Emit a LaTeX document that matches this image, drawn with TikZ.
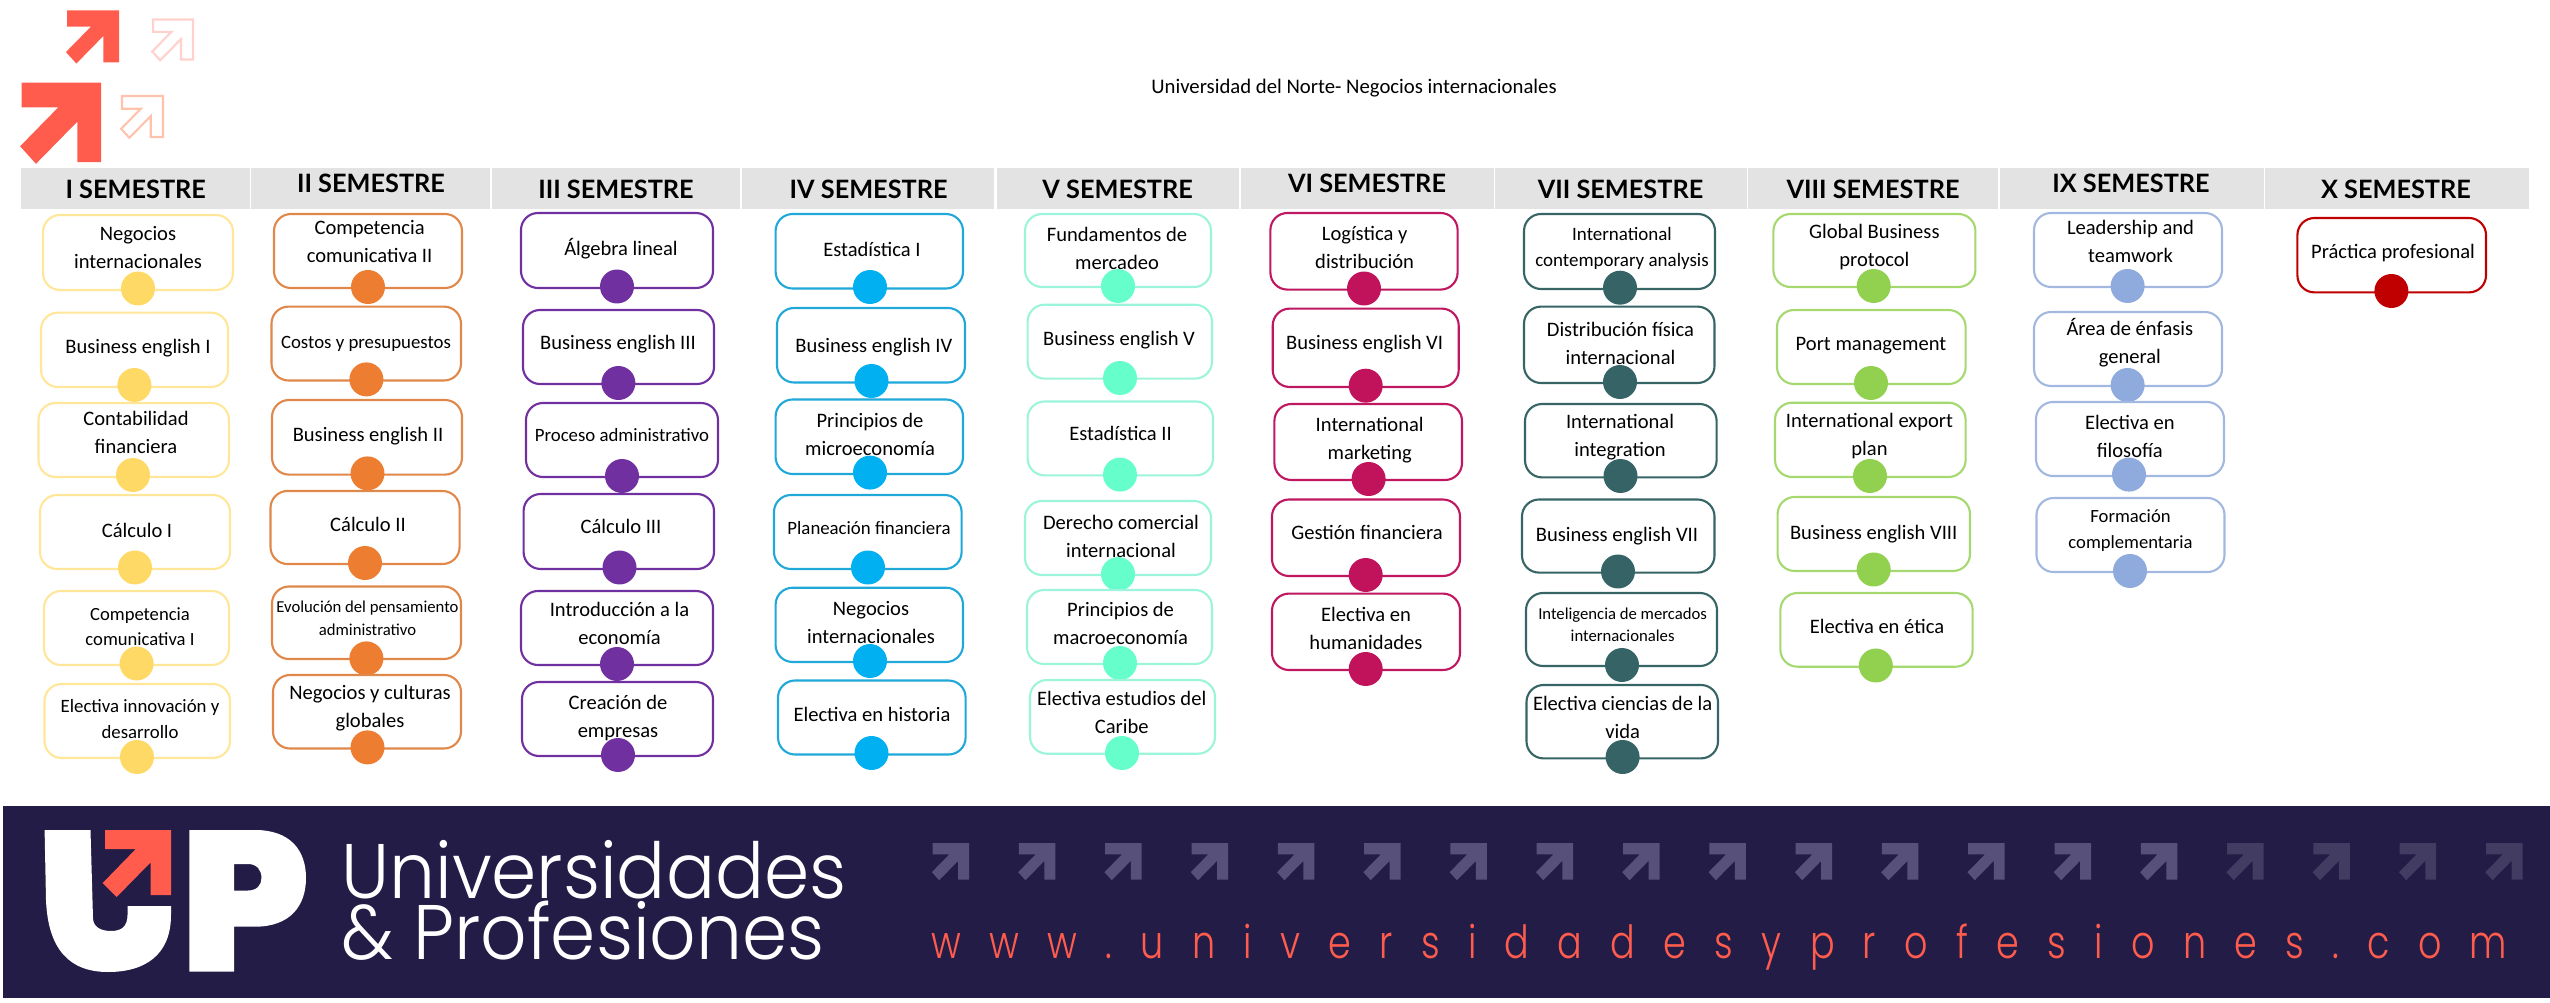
\documentclass[tikz,border=0pt]{standalone}
\usepackage{fontspec}
\setmainfont{Carlito}
\newfontfamily\semfont{Lato}
\newfontfamily\upfont[FakeStretch=0.94]{Poppins Light}
\newfontfamily\urlfont[LetterSpace=62,FakeStretch=0.8]{Poppins Light}
\definecolor{bordeA}{HTML}{FFE699}
\definecolor{puntoA}{HTML}{FFD966}
\definecolor{bordeB}{HTML}{E0874A}
\definecolor{puntoB}{HTML}{ED7D31}
\definecolor{bordeC}{HTML}{7030A0}
\definecolor{puntoC}{HTML}{7030A0}
\definecolor{bordeD}{HTML}{1FA8D8}
\definecolor{puntoD}{HTML}{00B0F0}
\definecolor{bordeE}{HTML}{9CF5DA}
\definecolor{puntoE}{HTML}{66FFCC}
\definecolor{bordeF}{HTML}{BF1760}
\definecolor{puntoF}{HTML}{C1125C}
\definecolor{bordeG}{HTML}{376565}
\definecolor{puntoG}{HTML}{366466}
\definecolor{bordeH}{HTML}{A5D86F}
\definecolor{puntoH}{HTML}{92D050}
\definecolor{bordeI}{HTML}{A3B8E0}
\definecolor{puntoI}{HTML}{8FAADC}
\definecolor{bordeJ}{HTML}{C00000}
\definecolor{puntoJ}{HTML}{C00000}
\definecolor{grisfranja}{HTML}{E3E3E3}
\definecolor{fondoup}{HTML}{221C46}
\definecolor{naranjaup}{HTML}{FF5C4D}
\definecolor{flechaclara}{HTML}{56507A}
\definecolor{flechaoscura}{HTML}{423C63}
\tikzset{
	caja/.style={rectangle, rounded corners=0.34cm, line width=1.2pt, fill=white, inner sep=0pt},
	punto/.style={circle, minimum size=0.68cm, inner sep=0pt},
	materia/.style={align=center, inner sep=0pt, yshift=-0.03cm},
	franja/.style={rectangle, fill=grisfranja, minimum height=0.82cm, inner sep=0pt},
	semestre/.style={font=\semfont\bfseries\fontsize{14.4}{17}\selectfont, inner sep=0pt}
}
\newcommand{\columna}[4]{
	\foreach \n/\xa/\ya/\xb/\yb/\dx/\dy/\tx/\ty/\fs/\txt in {#4} {
		\node[caja, draw=#2, minimum width={(\xb-\xa)*0.02cm}, minimum height={(\yb-\ya)*0.02cm}] (#1-\n) at ({(\xa+\xb)/2},{(\ya+\yb)/2}) {};
		\node[materia, font=\fontsize{\fs}{\dimexpr\fs pt*15/11\relax}\selectfont] (t#1-\n) at (\tx,\ty) {\strut\txt\strut};
		\node[punto, fill=#3] (p#1-\n) at (\dx,\dy) {};
	}
}
\newcommand{\flecha}[4]{
	\path[#4, shift={(#1,#2)}, scale=#3] (0,0) -- (1,0) -- (1,1) -- (0.70,1) -- (0.70,0.49) -- (0.18,1.02) -- (-0.02,0.80) -- (0.46,0.31) -- (0,0.31) -- cycle;
}

\begin{document}
\begin{tikzpicture}[x=0.02cm, y=-0.02cm]
	\useasboundingbox (0,0) rectangle (2550,1003);
	\flecha{67}{10.5}{52}{fill=naranjaup}
	\flecha{21.7}{82.7}{79.5}{fill=naranjaup}
	\flecha{153}{19.5}{40}{draw=naranjaup!28, line width=1.2pt}
	\flecha{122}{96}{41}{draw=orange!35!naranjaup!40, line width=1.2pt}
	\node[font=\fontsize{11.8}{14}\selectfont] (titulo) at (1354,88.5) {Universidad del Norte- Negocios internacionales};
	\foreach \n/\xa/\xb/\tx/\ty/\txt in {
		1/20.6/250/135.8/189.5/I SEMESTRE, 2/251/490/371/183.5/II SEMESTRE, 3/491.6/740/616/189.5/III SEMESTRE, 4/741.5/994.3/868.6/189.5/IV SEMESTRE, 5/996.6/1239.4/1117.7/189.5/V SEMESTRE,
		6/1240.6/1493.7/1367/183.5/VI SEMESTRE, 7/1495/1746.7/1620.5/189.5/VII SEMESTRE, 8/1748/1998/1873/189.5/VIII SEMESTRE, 9/2000/2263.7/2131/183.5/IX SEMESTRE, 10/2265/2529/2396/189.5/X SEMESTRE} {
		\node[franja, minimum width={(\xb-\xa)*0.02cm}] (f\n) at ({(\xa+\xb)/2},188.5) {};
		\node[semestre] (s\n) at (\tx,\ty) {\txt};
	}
	\columna{a}{bordeA}{puntoA}{
		1/43/215/233/290/138/288.5/138/247.5/11.7/{Negocios\\internacionales},
		2/41/312.6/228/387/134.4/385/138/346.6/11.7/{Business english I},
		3/38.5/403/229/477/133/475/136/432.5/11.7/{Contabilidad\\financiera},
		4/40/495/230/569/135/567.5/137/530/11.7/{Cálculo I},
		5/44/591/229/665/136.6/663.5/140/626.4/10.6/{Competencia\\comunicativa I},
		6/44.5/684/230/758/137/757/140/719/10.7/{Electiva innovación y\\desarrollo}}
	\columna{b}{bordeB}{puntoB}{
		1/274/214/462/288/368/287/369.6/241.8/11.7/{Competencia\\comunicativa II},
		2/271.5/306.6/461/380.5/366.4/379.4/366/342/10.7/{Costos y presupuestos},
		3/272/400/462/474.6/367.5/473.4/368/434.3/11.7/{Business english II},
		4/270.5/491/459.6/564/365/563/368/524.4/11.7/{Cálculo II},
		5/272/586.5/461/659/366.4/658.4/367.5/617.7/9.5/{Evolución del pensamiento\\administrativo},
		6/273/675/461/748.5/367.5/747.4/370/706.6/11.7/{Negocios y culturas\\globales}}
	\columna{c}{bordeC}{puntoC}{
		1/521/213/713/288/617/286.5/621/248.5/11.7/{Álgebra lineal},
		2/523/310/714/384/618.4/383/618/342.6/11.7/{Business english III},
		3/526/403/718/477/622/476/622/435/10.7/{Proceso administrativo},
		4/523.6/494/714/569/619.5/567.5/621/526.4/11.7/{Cálculo III},
		5/521/591/713/665/617/664/619.5/623/11.7/{Introducción a la\\economía},
		6/522/682/713/756/618/755/618/716.5/11.7/{Creación de\\empresas}}
	\columna{d}{bordeD}{puntoD}{
		1/775.6/214/963/288.5/870/287/872/249.7/11.7/{Estadística I},
		2/777/308/965/382.5/871.5/381/873.8/345.8/11.7/{Business english IV},
		3/775.6/399.5/963/474/870/472.6/870/434.7/11.7/{Principios de\\microeconomía},
		4/774/495/961.6/569/868/567.5/869/528/10.7/{Planeación financiera},
		5/775.6/587.7/963/662/870/661/871/622.5/11.7/{Negocios\\internacionales},
		6/778/680.5/965.6/754.5/871.5/753/872/714.5/11.7/{Electiva en historia}}
	\columna{e}{bordeE}{puntoE}{
		1/1025/214/1211/287/1118/286/1117/248.7/11.7/{Fundamentos de\\mercadeo},
		2/1027.6/304.7/1212/378.6/1120/378/1119/338.7/11.7/{Business english V},
		3/1027.6/401.5/1213/475.4/1120/474.6/1120.6/433.5/11.7/{Estadística II},
		4/1025/501/1211/575/1118/574/1121/536.3/11.7/{Derecho comercial\\internacional},
		5/1027/590/1212/664/1120/663/1120.6/623/11.7/{Principios de\\macroeconomía},
		6/1030/680/1215/753.7/1122/753/1121.7/712/11.7/{Electiva estudios del\\Caribe}}
	\columna{f}{bordeF}{puntoF}{
		1/1270.4/213/1457.6/289.6/1364/288.5/1364.6/247.4/11.7/{Logística y\\distribución},
		2/1272.7/308.6/1458.7/387/1365.7/385.7/1364.6/342.6/11.7/{Business english VI},
		3/1274.4/404/1462/480/1368.6/479/1369.7/438.3/11.7/{International\\marketing},
		4/1272/499.5/1460/576/1365.7/575/1367/532.7/11.7/{Gestión financiera},
		5/1272/593.6/1460/670/1365.7/669/1366/628.8/11.7/{Electiva en\\humanidades}}
	\columna{g}{bordeG}{puntoG}{
		1/1524/214/1715/289/1620/287.7/1622/247/10.8/{International\\contemporary analysis},
		2/1524/306.6/1714.5/383/1620/382/1620.5/343.4/11.7/{Distribución física\\internacional},
		3/1525/404/1716.6/477.4/1620.5/476/1620/435.5/11.7/{International\\integration},
		4/1522/499.5/1714.5/572.6/1618/571.5/1617/534.3/11.7/{Business english VII},
		5/1526/593/1717/666/1622/665/1622.6/624.4/9.5/{Inteligencia de mercados\\internacionales},
		6/1526.5/685/1718/758.4/1622.6/757/1622.6/717.7/11.7/{Electiva ciencias de la\\vida}}
	\columna{h}{bordeH}{puntoH}{
		1/1773.4/214/1975.4/287/1873.7/286/1874.4/245.4/11.7/{Global Business\\protocol},
		2/1777/310/1965.6/384/1871/383/1871/343.8/11.7/{Port management},
		3/1775/402.7/1965.6/477/1870/476/1869.5/434/11.7/{International export\\plan},
		4/1777.6/497/1970/571/1873.7/569.5/1873.7/532.7/11.7/{Business english VIII},
		5/1780.4/593/1972.6/666.7/1875.8/665.5/1877/626.4/11.7/{Electiva en ética}}
	\columna{i}{bordeI}{puntoI}{
		1/2034/213/2222/287/2127.6/286/2130.5/241.8/11.7/{Leadership and\\teamwork},
		2/2034/312/2222/386/2127.6/385/2129.8/342.6/11.7/{Área de énfasis\\general},
		3/2036/402/2224/476/2129/474.6/2129.8/436.7/11.7/{Electiva en\\filosofía},
		4/2036.5/498/2224.5/572/2130/571/2130.5/529/10.6/{Formación\\complementaria}}
	\columna{j}{bordeJ}{puntoJ}{
		1/2297.4/218/2486/292.4/2391.4/291/2393/251.7/11.7/{Práctica profesional}}
	\node[rectangle, fill=fondoup, minimum width={2547*0.02cm}, minimum height={192.3*0.02cm}, inner sep=0pt] (banda) at (1276.5,902.2) {};
	\fill[white] (44.6,830) -- (90.5,830) -- (93,918) .. controls (93,927) and (101,931) .. (111,931) .. controls (121,931) and (127.5,927) .. (127.5,915) -- (127.5,906) -- (171,906) -- (171,915) .. controls (171,955) and (145,972) .. (108,972) .. controls (70,972) and (48,950) .. (46,900) -- cycle;
	\fill[naranjaup] (105,830) -- (171,830) -- (171,895) -- (150.5,895) -- (150.5,862.5) -- (116.7,897) -- (102.7,883) -- (135.8,849) -- (105,849) -- cycle;
	\fill[white, even odd rule] (189.4,830) -- (255,830) .. controls (290,830) and (306,850) .. (306,878) .. controls (306,906) and (290,926.7) .. (255,926.7) -- (234,926.7) -- (234,971.6) -- (189.4,971.6) -- cycle (234,864) -- (248,864) .. controls (257,864) and (261.5,870) .. (261.5,878) .. controls (261.5,885) and (257,890.5) .. (248,890.5) -- (234,890.5) -- cycle;
	\node[anchor=base west, text=white, inner sep=0pt, font=\upfont\fontsize{44}{50}\selectfont] (univ) at (341,898) {Universidades};
	\node[anchor=base west, text=white, inner sep=0pt, font=\upfont\fontsize{44}{50}\selectfont] (prof) at (341,959.5) {\& Profesiones};
	\foreach \i in {0,...,14} {
		\flecha{932.6+\i*86.3}{843}{36.5}{fill=flechaclara}
	}
	\foreach \i in {15,...,18} {
		\flecha{932.6+\i*86.3}{843}{36.5}{fill=flechaoscura}
	}
	\node[anchor=base west, text=naranjaup, inner sep=0pt, font=\urlfont\fontsize{26}{30}\selectfont] (web) at (931,958.8) {www.universidadesyprofesiones.com};
\end{tikzpicture}
\end{document}
